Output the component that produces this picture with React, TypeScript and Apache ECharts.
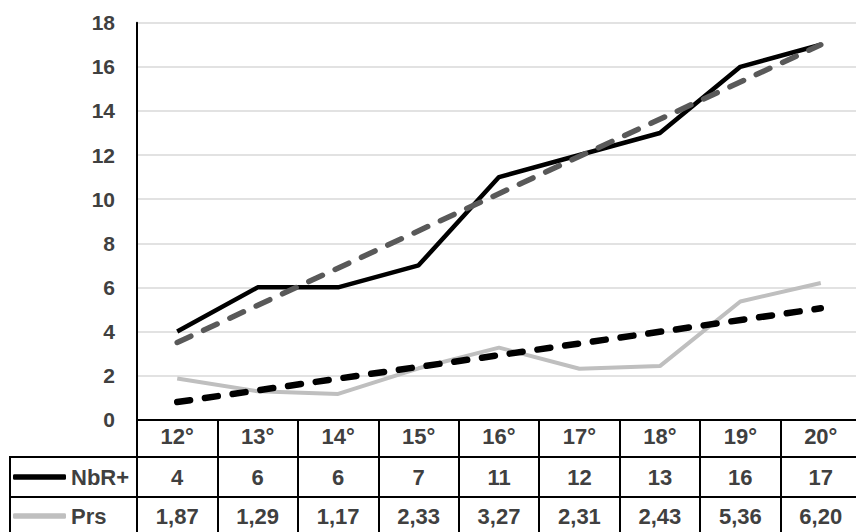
import React, { useEffect, useRef } from "react";
import * as echarts from "echarts";

const categories = ["12°", "13°", "14°", "15°", "16°", "17°", "18°", "19°", "20°"];
const nbrValues = [4, 6, 6, 7, 11, 12, 13, 16, 17];
const prsValues = [1.87, 1.29, 1.17, 2.33, 3.27, 2.31, 2.43, 5.36, 6.2];
// trend line end values (at 12° and 20°)
const nbrTrendEnds = [3.5, 17.0];
const prsTrendEnds = [0.8, 5.05];
const yMin = 0;
const yMax = 18;
const yStep = 2;

const FONT = "'Liberation Sans Narrow', 'Arial Narrow', 'Liberation Sans', Arial, sans-serif";
const TXT = "#404040";

const GRID_LEFT = 137;
const GRID_TOP = 22.7;
const GRID_BOTTOM = 112.3;

export default function App() {
  const ref = useRef<HTMLDivElement>(null);
  useEffect(() => {
    document.body.style.margin = "0";
    const chart = echarts.init(ref.current!, null, { renderer: "svg" });
    const fmt = (v: number) => v.toFixed(2).replace(".", ",");
    const last = categories.length - 1;
    const labelStyle = {
      fontFamily: FONT,
      fontWeight: "bold" as const,
      fontSize: 22,
      color: TXT,
      verticalAlign: "middle" as const,
    };
    chart.setOption({
      animation: false,
      grid: {
        left: GRID_LEFT,
        right: -5,
        top: GRID_TOP,
        bottom: GRID_BOTTOM,
        containLabel: false,
        outerBoundsMode: "none",
      },
      xAxis: [
        {
          type: "category",
          data: categories,
          boundaryGap: true,
          position: "bottom",
          axisLine: { show: true, lineStyle: { color: "#000", width: 2 } },
          axisTick: { show: true, interval: 0, length: 120, lineStyle: { color: "#000", width: 2 } },
          axisLabel: { ...labelStyle, margin: 17, interval: 0 },
          splitLine: { show: false },
        },
        {
          type: "category",
          data: nbrValues.map((v) => String(v)),
          boundaryGap: true,
          position: "bottom",
          offset: 41,
          axisLine: { show: false },
          axisTick: { show: false },
          axisLabel: { ...labelStyle, margin: 17, interval: 0 },
        },
        {
          type: "category",
          data: prsValues.map(fmt),
          boundaryGap: true,
          position: "bottom",
          offset: 80,
          axisLine: { show: false },
          axisTick: { show: false },
          axisLabel: { ...labelStyle, margin: 17, interval: 0 },
        },
      ],
      yAxis: {
        type: "value",
        min: yMin,
        max: yMax,
        interval: yStep,
        axisLine: { show: true, lineStyle: { color: "#000", width: 2 } },
        axisTick: { show: false },
        axisLabel: {
          fontFamily: FONT,
          fontWeight: "bold",
          fontSize: 21,
          color: TXT,
          margin: 22,
        },
        splitLine: { show: true, lineStyle: { color: "#d9d9d9", width: 1.5 } },
      },
      legend: [
        {
          data: ["NbR+"],
          left: 13,
          top: 465,
          padding: 0,
          orient: "vertical",
          icon: "roundRect",
          itemWidth: 53,
          itemHeight: 5.5,
          selectedMode: false,
          textStyle: { fontFamily: FONT, fontWeight: "bold", fontSize: 22, color: TXT, lineHeight: 24 },
        },
        {
          data: ["Prs"],
          left: 13,
          top: 504,
          padding: 0,
          orient: "vertical",
          icon: "roundRect",
          itemWidth: 53,
          itemHeight: 5.5,
          selectedMode: false,
          textStyle: { fontFamily: FONT, fontWeight: "bold", fontSize: 22, color: TXT, lineHeight: 24 },
        },
      ],
      series: [
        {
          name: "NbR+",
          type: "line",
          data: nbrValues,
          symbol: "none",
          itemStyle: { color: "#000" },
          lineStyle: { color: "#000", width: 4.5 },
          z: 2,
        },
        {
          name: "Prs",
          type: "line",
          data: prsValues,
          symbol: "none",
          itemStyle: { color: "#bfbfbf" },
          lineStyle: { color: "#bfbfbf", width: 4 },
          z: 2,
        },
        {
          name: "NbR+ trend",
          type: "line",
          data: [
            [0, nbrTrendEnds[0]],
            [last, nbrTrendEnds[1]],
          ],
          symbol: "none",
          itemStyle: { color: "#595959" },
          lineStyle: { color: "#595959", width: 5.5, type: [15, 14], cap: "round" },
          z: 3,
        },
        {
          name: "Prs trend",
          type: "line",
          data: [
            [0, prsTrendEnds[0]],
            [last, prsTrendEnds[1]],
          ],
          symbol: "none",
          itemStyle: { color: "#000" },
          lineStyle: { color: "#000", width: 6.5, type: [13, 15], cap: "round" },
          z: 3,
        },
      ],
      graphic: [
        { type: "line", shape: { x1: 10, y1: 457, x2: 860, y2: 457 }, style: { stroke: "#000", lineWidth: 2 } },
        { type: "line", shape: { x1: 10, y1: 497, x2: 860, y2: 497 }, style: { stroke: "#000", lineWidth: 2 } },
        { type: "line", shape: { x1: 10, y1: 456, x2: 10, y2: 540 }, style: { stroke: "#000", lineWidth: 2 } },
      ],
    });
    return () => chart.dispose();
  }, []);
  return <div ref={ref} style={{ width: 856, height: 532 }} />;
}
